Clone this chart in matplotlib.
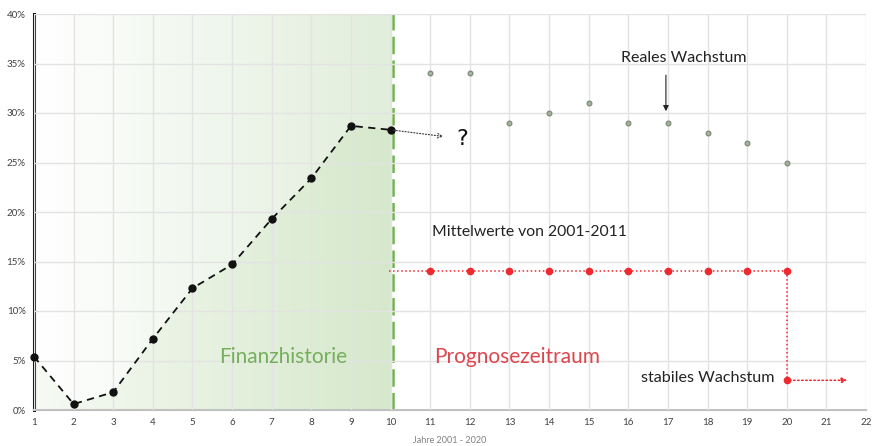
import numpy as np
import matplotlib.pyplot as plt
from matplotlib.patches import Polygon
from matplotlib.colors import LinearSegmentedColormap

plt.rcParams['font.family'] = ['Lato', 'DejaVu Sans']

# historical growth (years 1-10)
hist_x = [1, 2, 3, 4, 5, 6, 7, 8, 9, 10]
hist_y = [5.4, 0.6, 1.8, 7.2, 12.3, 14.7, 19.3, 23.4, 28.7, 28.3]

# real growth (years 11-20)
real_x = [11, 12, 13, 14, 15, 16, 17, 18, 19, 20]
real_y = [34, 34, 29, 30, 31, 29, 29, 28, 27, 25]

# mean value forecast
mean_x = [11, 12, 13, 14, 15, 16, 17, 18, 19, 20]
mean_y = [14] * 10
stable_y = 3

x_ticks = list(range(1, 23))
y_ticks = [0, 5, 10, 15, 20, 25, 30, 35, 40]

fig = plt.figure(figsize=(8.75, 4.46), dpi=100)
ax = fig.add_axes([34 / 875, 36 / 446, 832 / 875, 396 / 446])
ax.set_xlim(1, 22)
ax.set_ylim(0, 40)

# background gradient for the history part
grad = np.linspace(0, 1, 256).reshape(1, -1)
cmap_bg = LinearSegmentedColormap.from_list('bg', ['#ffffff', '#e1eedb'])
ax.imshow(grad, extent=[1, 10, 0, 40], aspect='auto', cmap=cmap_bg, zorder=0.5)

# darker gradient under the history curve
cmap_fill = LinearSegmentedColormap.from_list('fill', ['#f6faf3', '#d6e8cc'])
im = ax.imshow(grad, extent=[1, 10, 0, 40], aspect='auto', cmap=cmap_fill, zorder=0.6)
poly = Polygon([(1, 0)] + list(zip(hist_x, hist_y)) + [(10, 0)], closed=True,
               transform=ax.transData, facecolor='none', edgecolor='none')
ax.add_patch(poly)
im.set_clip_path(poly)

ax.set_xticks(x_ticks)
ax.set_yticks(y_ticks)
ax.set_yticklabels([f'{v}%' for v in y_ticks])
ax.tick_params(axis='both', length=0, labelsize=7, colors='#404040', pad=6)
ax.grid(True, color='#e3e3e3', linewidth=1, zorder=0.7)
ax.set_axisbelow(False)
for s in ['top', 'right']:
    ax.spines[s].set_visible(False)
ax.spines['left'].set_linewidth(2.2)
ax.spines['left'].set_color('#1a1a1a')
ax.spines['bottom'].set_color('#bdbdbd')
ax.spines['bottom'].set_linewidth(1.5)
ax.set_xlabel('Jahre 2001 - 2020', fontsize=6.5, color='#808080', labelpad=6)

# boundary line
ax.axvline(10.05, color='#6db24a', linestyle=(0, (7, 2.5)), linewidth=1.8, zorder=2)

# history curve
ax.plot(hist_x, hist_y, color='#111111', linestyle=(0, (4, 3)), linewidth=1.3,
        marker='o', markersize=5, zorder=4, clip_on=False)

# real growth points
ax.scatter(real_x, real_y, s=12, facecolor='#a3b49a', edgecolor='#7b8575',
           linewidth=0.8, zorder=4)

# mean value line
ax.plot([9.97] + mean_x, [mean_y[0]] + mean_y, color='#ee2a30', linestyle=':',
        linewidth=1.1, zorder=3)
ax.plot(mean_x, mean_y, 'o', color='#ee2a30', markersize=4.5, zorder=4)
ax.plot([mean_x[-1], mean_x[-1]], [mean_y[-1], stable_y], color='#ee2a30',
        linestyle=':', linewidth=1.1, zorder=3)
ax.plot([mean_x[-1]], [stable_y], 'o', color='#ee2a30', markersize=4.5, zorder=4)
ax.annotate('', xy=(21.6, stable_y), xytext=(20, stable_y),
            arrowprops=dict(arrowstyle='-|>', color='#ee2a30', linestyle=':',
                            linewidth=1.1, mutation_scale=8), zorder=4)

# question arrow
ax.annotate('', xy=(11.4, 27.6), xytext=(10, hist_y[-1]),
            arrowprops=dict(arrowstyle='->', color='#333333', linestyle=':',
                            linewidth=0.8, mutation_scale=8), zorder=4)
ax.text(11.8, 27.4, '?', fontsize=16, color='#111111', ha='center', va='center',
        family=['DejaVu Sans'])

# real growth annotation
ax.text(17.4, 35.6, 'Reales Wachstum', fontsize=11.5, color='#222222',
        ha='center', va='center')
ax.annotate('', xy=(16.95, 29.9), xytext=(16.95, 34.1),
            arrowprops=dict(arrowstyle='-|>', color='#222222', linewidth=0.8,
                            mutation_scale=8))

ax.text(13.5, 18.0, 'Mittelwerte von 2001-2011', fontsize=11.3, color='#222222',
        ha='center', va='center')
ax.text(19.7, 3.2, 'stabiles Wachstum', fontsize=11.6, color='#222222',
        ha='right', va='center')

ax.text(7.3, 5.4, 'Finanzhistorie', fontsize=15, color='#6aa84f',
        ha='center', va='center', alpha=0.9)
ax.text(13.2, 5.4, 'Prognosezeitraum', fontsize=15, color='#d9343c',
        ha='center', va='center', alpha=0.9)

fig.savefig('out.png', dpi=100)
